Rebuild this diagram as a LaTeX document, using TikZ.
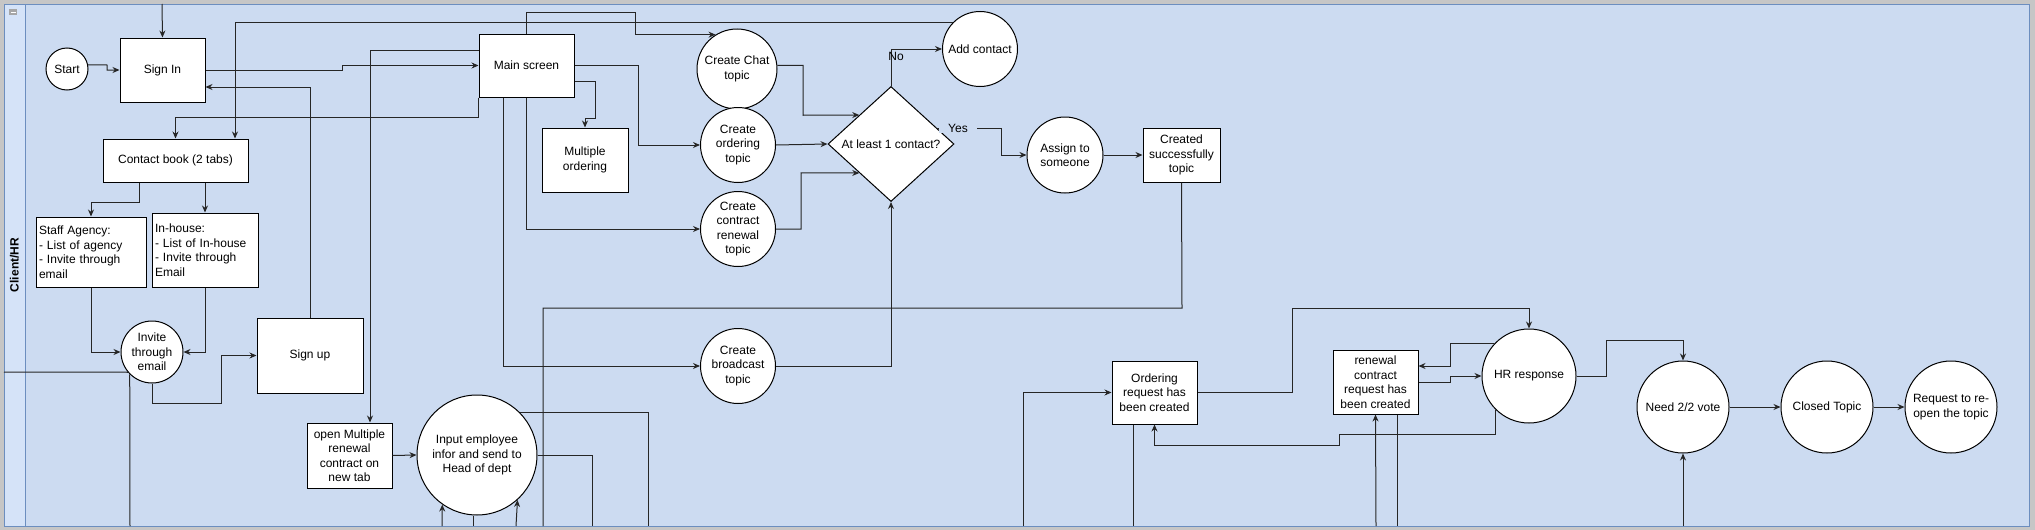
\documentclass[tikz,border=0pt]{standalone}
\usepackage{fontspec}
\setmainfont{Liberation Sans}
\usetikzlibrary{shapes.geometric,arrows.meta}
\definecolor{lanebg}{RGB}{204,219,241}
\definecolor{headbg}{RGB}{213,227,248}
\definecolor{lanestroke}{RGB}{108,142,191}
\definecolor{outerbg}{RGB}{198,198,198}
\begin{document}
\begin{tikzpicture}[x=1pt,y=-1pt,
  every node/.style={font=\fontsize{12}{14.5}\selectfont},
  box/.style={draw=black, fill=white, line width=1pt, align=center, inner sep=1pt},
  circ/.style={circle, draw=black, fill=white, line width=1pt, align=center, inner sep=0pt},
  conn/.style={line width=1pt, draw=black!85},
  arr/.style={conn, -{Stealth[length=7pt,width=6pt]}},
  lbl/.style={inner sep=1pt}]
\useasboundingbox (0,0) rectangle (2035,530);
% frame and lane
\fill[outerbg] (0,0) rectangle (2035,530);
\filldraw[fill=lanebg, draw=lanestroke, line width=1pt] (4,4) rectangle (2029,526);
\filldraw[fill=headbg, draw=lanestroke, line width=1pt] (4,4) rectangle (25,526);
\fill[gray!70] (9,9) rectangle (17,15);
\draw[white, line width=0.8pt] (10.5,12) -- (15.5,12);
\node[rotate=90, font=\bfseries\fontsize{12}{14}\selectfont] (lanelbl) at (14.5,265) {Client/HR};

% nodes
\node[circ, minimum size=42pt] (start) at (67,69) {Start};
\node[box, minimum width=85pt, minimum height=64pt] (signin) at (162.5,70) {Sign In};
\node[box, minimum width=95pt, minimum height=63pt] (main) at (526.5,65.5) {Main screen};
\node[box, minimum width=86pt, minimum height=64pt] (mult) at (585,160) {Multiple\\ordering};
\node[circ, minimum size=80pt] (chat) at (737,69) {Create Chat\\topic};
\node[circ, minimum size=75pt] (ord) at (738,145) {Create\\ordering\\topic};
\node[circ, minimum size=75pt] (ren) at (738,229) {Create\\contract\\renewal\\topic};
\node[circ, minimum size=75pt] (bcast) at (738,366) {Create\\broadcast\\topic};
\node[diamond, draw=black, fill=white, line width=1pt, minimum width=126pt, minimum height=115pt, inner sep=0pt, aspect=1.1] (dia) at (891,144) {At least 1 contact?};
\node[circ, minimum size=75pt] (add) at (980,49) {Add contact};
\node[circ, minimum size=76pt] (assign) at (1065,155) {Assign to\\someone};
\node[box, minimum width=77pt, minimum height=54pt] (created) at (1181.5,155) {Created\\successfully\\topic};
\node[box, minimum width=145pt, minimum height=43pt] (contact) at (175.5,160.5) {Contact book (2 tabs)};
\node[box, text width=104pt, align=left, inner sep=3pt, minimum height=70pt] (staff) at (91,252) {Staff Agency:\\- List of agency\\- Invite through\\email};
\node[box, text width=100pt, align=left, inner sep=3pt, minimum height=74pt] (inhouse) at (205,250) {In-house:\\- List of In-house\\- Invite through\\Email};
\node[circ, minimum size=62pt] (invite) at (152,352) {Invite\\through\\email};
\node[box, minimum width=106pt, minimum height=75pt] (signup) at (310,355.5) {Sign up};
\node[box, minimum width=85pt, minimum height=65pt] (openm) at (349.5,455.5) {open Multiple\\renewal\\contract on\\new tab};
\node[circ, minimum size=120pt] (input) at (477,455) {Input employee\\infor and send to\\Head of dept};
\node[box, minimum width=85pt, minimum height=63pt] (ordreq) at (1154.5,392.5) {Ordering\\request has\\been created};
\node[box, minimum width=85pt, minimum height=64pt] (renreq) at (1375.5,382) {renewal\\contract\\request has\\been created};
\node[circ, minimum size=94pt] (hr) at (1529,376) {HR response};
\node[circ, minimum size=92pt] (need) at (1683,407) {Need 2/2 vote};
\node[circ, minimum size=92pt] (closed) at (1827,407) {Closed Topic};
\node[circ, minimum size=92pt] (reopen) at (1951,407) {Request to re-\\open the topic};

% free ends
\coordinate (topin) at (162,4);
\coordinate (offL) at (4,372);
\coordinate (offL2) at (130,526);
\coordinate (off1) at (543,526);
\coordinate (off2) at (1023,526);
\coordinate (off3) at (1376,526);
\coordinate (off4) at (1397,526);
\coordinate (off5) at (1133,526);
\coordinate (off6) at (1683,526);
\coordinate (offA) at (442,526);
\coordinate (offB) at (473,526);
\coordinate (offC) at (516,526);
\coordinate (offD) at (648,526);
\coordinate (offE) at (592,526);

% connectors
\draw[arr] (topin) -- (signin.north);
\draw[arr] (start.11) -- (107,65) -- (107,70) -- (signin.west);
\draw[arr] (signin.east) -- (342,70) -- (342,65.5) -- (main.west);
\draw[arr] (signup.north) |- ([yshift=-17pt]signin.east);
\draw[arr] (main.south west) -- ++(0,20) -| (contact.north);
\draw[arr] (add.135) -| ([xshift=59.5pt]contact.north);
\draw[arr] (main.north) |- (635,12) |- (chat.122);
\draw[arr] ([yshift=15.5pt]main.west) -| ([xshift=20.5pt]openm.north);
\draw[arr] ([yshift=-15.5pt]main.east) -| (595,118) -| (mult.north);
\draw[arr] (main.east) -| (638,145) -- (ord.west);
\draw[arr] (main.south) |- (ren.west);
\draw[arr] ([xshift=-23.5pt]main.south) |- (bcast.west);
\draw[arr] (chat.5) -| (803,115.25) -- (dia.north west);
\draw[arr] (ord.east) -- (dia.west);
\draw[arr] (ren.east) -| (801,172.75) -- (dia.south west);
\draw[arr] (bcast.east) -| (dia.south);
\draw[arr] (dia.north) |- (add.west);
\node[lbl] (nolbl) at (896,56) {No};
\draw[arr] (dia.19) -| (1001,155) -- (assign.west);
\node[lbl, fill=lanebg, inner xsep=9pt] (yeslbl) at (958,128) {Yes};
\draw[arr] (assign.east) -- (created.west);
\draw[conn] (created.south) -- (1182,308) -- (543,308) -- (off1);
\draw[arr] (off2) |- (ordreq.west);
\draw[arr] (ordreq.east) -| (1292,308) -| (hr.north);
\draw[arr] (hr.225) |- (1339,434) -- (1339,445) -| (ordreq.south);
\draw[arr] (hr.137) -| (1450,366) -- ([yshift=16pt]renreq.east);
\draw[arr] (renreq.east) -- (1450,382) |- (hr.west);
\draw[arr] (off3) -- (renreq.south);
\draw[conn] ([xshift=21.5pt]renreq.south) -- (off4);
\draw[conn] ([xshift=-21.5pt]ordreq.south) -- (off5);
\draw[arr] (hr.east) -| (1606,340) -| (need.north);
\draw[arr] (off6) -- (need.south);
\draw[arr] (need.east) -- (closed.west);
\draw[arr] (closed.east) -- (reopen.west);

\draw[arr] ([xshift=-36.5pt]contact.south) -- ++(0,20) -| (staff.north);
\draw[arr] ([xshift=29.5pt]contact.south) -- (inhouse.north);
\draw[arr] (staff.south) |- (invite.west);
\draw[arr] (inhouse.south) |- (invite.east);
\draw[arr] (invite.south) |- (221,403) |- (signup.west);
\draw[conn] (offL) -- (invite.220);
\draw[conn] (invite.225) -- (offL2);

\draw[arr] (openm.east) -- (input.west);
\draw[arr] (offA) -- (input.235);
\draw[conn] ([xshift=-4pt]input.south) -- (offB);
\draw[arr] (offC) -- (input.312);
\draw[conn] (input.45) -| (offD);
\draw[conn] (input.east) -| (offE);
\end{tikzpicture}
\end{document}
